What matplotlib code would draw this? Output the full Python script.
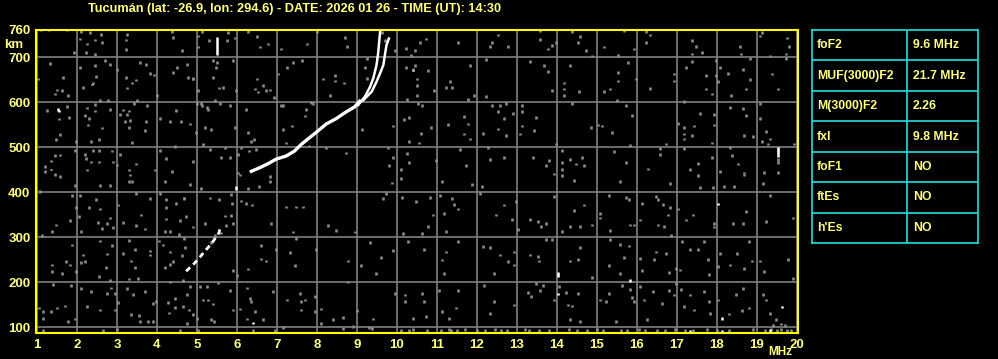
import matplotlib
matplotlib.use("Agg")
import matplotlib.pyplot as plt

# ionogram Tucuman 2026-01-26 14:30 UT

title = "Tucumán (lat: -26.9, lon: 294.6) - DATE: 2026 01 26 - TIME (UT): 14:30"

freq_ticks = list(range(1, 21))
height_ticks = [100, 200, 300, 400, 500, 600, 700, 760]

# lower (F1/E-ish) echo, MHz / km
low_mhz = [4.73, 4.94, 5.07, 5.23, 5.36, 5.55, 5.58]
low_km = [224, 242, 255, 272, 285, 309, 321]

# main F2 trace
f2_mhz = [6.36, 6.57, 6.78, 6.98, 7.23, 7.44, 7.61, 7.82, 8.03, 8.23, 8.48, 8.73, 8.94, 9.07]
f2_km = [446, 454, 463, 473, 480, 491, 506, 521, 536, 551, 563, 578, 589, 602]

# ordinary branch near the cusp
o_mhz = [9.03, 9.20, 9.33, 9.41, 9.49, 9.53, 9.58]
o_km = [593, 612, 634, 653, 682, 708, 756]

# extraordinary branch
x_mhz = [9.16, 9.37, 9.49, 9.58, 9.66, 9.74, 9.80]
x_km = [604, 623, 645, 664, 682, 727, 741]

# white spikes (freq, from km, to km)
spikes = [(5.49, 705, 745), (19.54, 478, 500), (14.03, 212, 222), (15.83, 199, 207),
          (18.13, 115, 122), (5.98, 405, 414), (6.39, 107, 112), (18.04, 371, 376),
          (2.37, 637, 641), (1.54, 577, 582), (1.35, 448, 452), (1.53, 581, 586),
          (19.63, 142, 146), (14.03, 172, 176), (19.33, 88, 96), (18.13, 88, 94),
          (17.34, 88, 93), (10.4, 668, 672)]

# gray noise dots (MHz, km)
noise = [
    (10.23, 716), (10.44, 711), (10.58, 730), (10.73, 737), (10.36, 701), (10.23, 674),
    (10.40, 670), (10.44, 678), (10.79, 667), (10.49, 648), (10.49, 633), (10.94, 622),
    (10.50, 611), (10.24, 602), (10.52, 593), (10.64, 589), (10.18, 558), (10.30, 563),
    (10.60, 527), (10.85, 541), (10.30, 509), (10.55, 506), (10.24, 483), (10.30, 463),
    (10.97, 467), (10.10, 447), (11.54, 730), (11.34, 642), (11.23, 630), (11.38, 630),
    (11.83, 678), (11.94, 611), (11.79, 602), (11.69, 565), (11.29, 547), (11.78, 548),
    (11.69, 526), (11.83, 515), (11.59, 491), (11.73, 456), (12.38, 730), (12.54, 746),
    (12.33, 720), (12.79, 721), (12.23, 691), (12.23, 610), (12.38, 589), (12.57, 589),
    (12.72, 593), (12.54, 576), (12.69, 561), (12.15, 527), (12.54, 537), (12.73, 522),
    (12.90, 572), (12.29, 496), (12.33, 469), (12.69, 474), (13.58, 756), (13.58, 736),
    (13.88, 722), (13.78, 715), (13.98, 730), (13.33, 687), (13.69, 678), (13.79, 665),
    (13.88, 622), (13.13, 590), (13.13, 576), (13.48, 563), (13.13, 544), (13.44, 533),
    (13.09, 526), (13.40, 474), (13.73, 456), (13.81, 467), (13.98, 504), (14.38, 753),
    (14.57, 743), (14.53, 730), (14.73, 711), (14.88, 699), (14.33, 678), (14.19, 639),
    (14.19, 626), (14.19, 611), (14.55, 620), (14.38, 594), (14.13, 489), (14.13, 463),
    (14.33, 469), (14.48, 459), (14.64, 474), (14.86, 541), (14.68, 456), (14.13, 447),
    (15.19, 719), (15.68, 756), (15.54, 700), (15.79, 685), (15.53, 663), (15.54, 644),
    (15.34, 626), (15.18, 620), (15.50, 600), (15.74, 589), (15.89, 567), (15.14, 544),
    (15.04, 546), (15.38, 530), (15.43, 487), (15.73, 463), (15.82, 500), (16.23, 754),
    (16.33, 746), (16.22, 730), (15.94, 715), (15.98, 648), (16.33, 627), (16.93, 659),
    (16.94, 644), (16.57, 493), (16.57, 481), (16.73, 504), (16.28, 448), (17.38, 733),
    (17.48, 721), (17.38, 704), (17.63, 707), (17.38, 687), (17.23, 674), (17.73, 656),
    (17.73, 626), (17.88, 615), (17.19, 598), (17.58, 572), (17.94, 570), (17.02, 550),
    (17.19, 541), (17.43, 544), (17.19, 526), (17.38, 522), (17.19, 515), (17.88, 506),
    (17.19, 493), (17.53, 461), (17.88, 474), (17.34, 447), (18.58, 721), (18.61, 704),
    (17.98, 689), (18.08, 674), (17.98, 656), (18.03, 642), (18.29, 661), (18.65, 670),
    (18.82, 693), (18.83, 647), (18.73, 626), (18.36, 611), (18.33, 585), (18.65, 583),
    (18.73, 567), (17.94, 546), (18.68, 522), (18.90, 521), (18.33, 496), (18.38, 478),
    (18.53, 459), (18.69, 439), (18.08, 442), (19.13, 752), (19.08, 744), (19.75, 739),
    (19.80, 721), (19.73, 704), (19.73, 693), (19.33, 699), (19.38, 659), (19.53, 626),
    (19.09, 593), (19.08, 561), (19.23, 531), (19.13, 509), (19.33, 515), (19.28, 504),
    (19.92, 504), (19.19, 441), (19.54, 491), (19.54, 463), (19.53, 441), (19.54, 470),
    (10.11, 427), (11.13, 420), (11.88, 413), (12.13, 409), (13.94, 437), (14.13, 433),
    (14.44, 422), (15.57, 420), (16.82, 416), (17.53, 433), (17.58, 407), (17.90, 407),
    (18.43, 409), (18.19, 409), (19.16, 416), (18.69, 435), (10.13, 385), (10.48, 376),
    (10.82, 385), (11.08, 390), (11.38, 383), (11.44, 370), (11.53, 359), (11.19, 350),
    (10.90, 346), (10.78, 320), (11.23, 309), (10.63, 305), (10.15, 305), (12.07, 394),
    (12.69, 368), (12.48, 346), (12.98, 376), (12.88, 336), (13.02, 314), (13.32, 336),
    (13.52, 331), (13.73, 327), (13.60, 320), (13.94, 387), (14.13, 309), (14.69, 368),
    (14.44, 356), (14.32, 320), (14.57, 320), (14.88, 324), (15.08, 350), (15.08, 339),
    (15.30, 390), (15.73, 385), (15.80, 381), (15.32, 311), (15.83, 324), (15.94, 324),
    (16.08, 335), (16.13, 372), (16.47, 387), (16.53, 381), (16.65, 370), (16.83, 363),
    (16.78, 346), (16.53, 324), (16.69, 320), (16.86, 301), (17.02, 359), (17.22, 335),
    (17.40, 346), (17.94, 327), (17.94, 319), (18.40, 327), (18.73, 353), (18.65, 327),
    (19.32, 390), (19.23, 331), (19.90, 339), (10.28, 287), (10.69, 270), (11.13, 246),
    (11.23, 264), (11.19, 216), (11.53, 287), (12.15, 276), (12.32, 274), (12.57, 257),
    (12.44, 216), (12.78, 242), (12.94, 264), (12.94, 235), (13.33, 257), (13.52, 253),
    (13.73, 292), (13.88, 292), (13.55, 244), (14.57, 274), (14.33, 244), (14.54, 247),
    (14.88, 207), (15.33, 292), (15.57, 281), (15.67, 252), (15.80, 277), (15.30, 233),
    (15.57, 216), (16.07, 250), (16.13, 222), (16.47, 264), (16.44, 247), (16.73, 261),
    (16.80, 218), (16.98, 227), (17.08, 224), (17.13, 287), (17.32, 270), (17.53, 270),
    (17.69, 287), (17.78, 247), (17.80, 213), (18.04, 231), (18.08, 261), (18.33, 235),
    (18.50, 261), (18.69, 227), (18.80, 287), (18.89, 244), (19.07, 244), (19.19, 220),
    (19.78, 247), (19.90, 205), (10.19, 168), (10.63, 172), (10.19, 153), (10.68, 153),
    (10.73, 121), (10.40, 116), (11.05, 178), (11.13, 131), (11.53, 178), (11.30, 116),
    (11.48, 139), (12.19, 190), (12.44, 153), (12.33, 127), (12.94, 146), (13.27, 174),
    (13.35, 165), (13.48, 194), (13.65, 190), (13.57, 178), (13.94, 157), (14.05, 187),
    (14.23, 174), (14.28, 146), (14.38, 144), (14.32, 113), (14.57, 109), (14.52, 172),
    (15.07, 157), (15.30, 172), (15.23, 153), (15.48, 109), (15.63, 190), (15.82, 180),
    (15.88, 163), (16.07, 187), (15.94, 153), (16.19, 157), (16.25, 113), (16.40, 176),
    (16.63, 150), (16.80, 178), (16.94, 168), (16.97, 194), (17.11, 180), (17.32, 168),
    (17.17, 142), (17.42, 135), (17.69, 176), (17.80, 153), (17.83, 127), (18.02, 157),
    (18.30, 126), (18.48, 170), (18.65, 183), (18.63, 133), (18.80, 139), (19.23, 157),
    (19.32, 127), (19.48, 113), (19.15, 170), (19.40, 100), (19.60, 104), (19.70, 100),
    (10.10, 90), (10.30, 90), (10.40, 92), (10.75, 90), (11.10, 90), (11.30, 92),
    (11.35, 89), (11.50, 90), (11.70, 92), (12.00, 90), (12.20, 90), (12.45, 92),
    (12.60, 90), (12.75, 89), (13.20, 92), (13.30, 90), (13.55, 90), (13.80, 90),
    (14.30, 92), (14.50, 90), (14.75, 90), (15.00, 92), (15.15, 90), (15.60, 90),
    (15.75, 90), (16.05, 92), (16.20, 90), (16.50, 90), (16.70, 90), (16.95, 92),
    (17.20, 90), (17.40, 90), (17.75, 92), (18.00, 90), (18.30, 90), (18.90, 92),
    (19.20, 90), (19.35, 92), (19.50, 90), (19.60, 92), (19.75, 90), (19.85, 90),
    (1.09, 757), (1.31, 757), (1.74, 757), (2.09, 754), (2.33, 752), (2.59, 747),
    (2.08, 737), (2.26, 726), (2.45, 735), (2.62, 730), (3.24, 747), (3.23, 735),
    (3.23, 713), (1.93, 707), (2.23, 707), (2.45, 702), (2.70, 689), (2.83, 681),
    (3.00, 670), (2.45, 678), (2.08, 674), (1.33, 683), (1.03, 648), (1.66, 652),
    (2.48, 653), (2.39, 639), (2.16, 630), (1.51, 624), (1.62, 622), (1.45, 615),
    (1.78, 611), (3.24, 628), (3.37, 639), (3.23, 652), (3.48, 646), (3.58, 685),
    (3.72, 681), (3.83, 661), (3.93, 657), (3.49, 601), (3.43, 594), (3.74, 589),
    (3.16, 579), (3.24, 570), (2.45, 591), (2.58, 600), (2.78, 600), (2.83, 581),
    (2.24, 584), (1.74, 587), (1.24, 578), (4.37, 754), (4.41, 741), (4.62, 711),
    (4.74, 681), (4.49, 674), (4.41, 663), (4.48, 579), (4.78, 652), (4.91, 648),
    (3.99, 611), (4.99, 594), (5.12, 754), (5.31, 733), (5.03, 719), (5.03, 744),
    (5.12, 589), (5.26, 585), (5.41, 689), (5.48, 674), (5.49, 685), (5.78, 752),
    (5.74, 733), (5.91, 689), (5.95, 739), (5.41, 652), (5.56, 628), (5.58, 594),
    (6.28, 754), (6.49, 742), (6.58, 719), (6.78, 726), (6.49, 648), (6.45, 626),
    (6.64, 633), (6.83, 624), (7.03, 659), (7.10, 715), (7.24, 674), (7.41, 685),
    (7.62, 689), (7.74, 726), (7.99, 754), (7.16, 589), (7.89, 593), (8.14, 648),
    (8.33, 611), (8.74, 720), (8.69, 741), (8.45, 656), (8.45, 644), (8.68, 639),
    (9.26, 693), (9.20, 674), (9.24, 650), (9.62, 752), (9.70, 733), (9.95, 712),
    (1.54, 559), (1.80, 562), (2.19, 567), (2.30, 561), (2.44, 577), (2.28, 546),
    (2.63, 539), (3.07, 570), (3.30, 577), (3.19, 553), (3.33, 556), (3.30, 541),
    (3.69, 533), (3.73, 553), (4.07, 561), (4.32, 553), (4.48, 577), (4.61, 553),
    (1.58, 525), (1.48, 513), (1.98, 509), (2.36, 510), (2.55, 513), (3.38, 507),
    (1.44, 478), (1.58, 479), (1.35, 466), (1.19, 453), (1.19, 442), (1.44, 436),
    (1.58, 431), (1.94, 490), (2.19, 481), (2.40, 490), (2.55, 490), (2.23, 472),
    (2.35, 464), (2.55, 464), (2.25, 446), (2.88, 488), (2.90, 464), (3.00, 457),
    (3.08, 481), (3.48, 459), (3.30, 446), (3.33, 435), (3.30, 420), (3.38, 420),
    (4.08, 490), (4.23, 472), (4.44, 498), (3.94, 446), (4.38, 442), (4.19, 421),
    (1.94, 411), (2.58, 411), (2.83, 411), (1.08, 398), (1.88, 390), (2.08, 389),
    (2.48, 381), (1.98, 362), (2.30, 362), (2.58, 359), (2.05, 342), (1.83, 333),
    (1.48, 324), (1.38, 310), (2.11, 310), (2.53, 330), (2.63, 316), (2.75, 327),
    (2.82, 339), (2.90, 318), (3.03, 368), (3.14, 330), (3.47, 322), (3.61, 346),
    (3.69, 315), (3.48, 394), (3.83, 383), (4.08, 394), (4.23, 381), (4.23, 362),
    (4.23, 337), (4.48, 372), (4.67, 383), (4.73, 342), (4.58, 333), (4.19, 310),
    (4.32, 310), (4.55, 303), (1.13, 301), (1.88, 279), (1.72, 242), (1.38, 235),
    (1.38, 221), (1.63, 216), (1.83, 235), (1.98, 221), (2.15, 257), (2.11, 241),
    (2.19, 242), (2.57, 288), (2.75, 259), (2.88, 278), (2.72, 229), (2.55, 209),
    (2.82, 201), (3.14, 261), (3.30, 290), (3.44, 270), (3.34, 244), (3.44, 229),
    (3.83, 266), (3.83, 257), (4.05, 288), (4.15, 279), (4.32, 264), (4.40, 242),
    (4.32, 236), (4.67, 293), (4.63, 256), (4.19, 229), (3.53, 205), (3.30, 204),
    (4.90, 649), (5.03, 622), (5.65, 630), (5.98, 622), (6.52, 619), (6.73, 622),
    (6.93, 607), (5.44, 601), (5.11, 593), (5.28, 581), (5.82, 589), (6.23, 581),
    (7.10, 589), (7.73, 581), (7.69, 566), (7.86, 596), (4.82, 548), (4.98, 529),
    (5.19, 540), (5.36, 536), (5.94, 540), (6.27, 529), (6.35, 510), (6.43, 514),
    (6.30, 488), (6.47, 491), (5.69, 495), (6.02, 480), (6.11, 495), (5.82, 473),
    (5.61, 473), (5.33, 491), (5.15, 503), (4.90, 465), (7.15, 536), (7.38, 544),
    (7.23, 506), (7.80, 499), (9.13, 536), (9.90, 544), (9.78, 495), (9.90, 473),
    (9.80, 456), (9.88, 417), (8.23, 495), (8.73, 484), (6.02, 439), (6.83, 431),
    (6.83, 420), (6.27, 405), (6.55, 409), (6.08, 435), (5.11, 405), (4.82, 413),
    (4.67, 384), (5.33, 384), (5.55, 381), (5.86, 392), (5.88, 372), (6.09, 377),
    (6.23, 372), (6.38, 368), (5.69, 344), (5.86, 345), (5.73, 323), (5.44, 300),
    (5.61, 306), (5.90, 327), (5.19, 327), (4.90, 319), (5.36, 285), (4.69, 274),
    (6.86, 327), (7.23, 364), (7.48, 364), (7.64, 364), (7.40, 308), (7.48, 293),
    (6.61, 278), (6.61, 248), (6.98, 270), (7.32, 263), (7.44, 233), (7.98, 270),
    (8.28, 323), (8.48, 312), (8.78, 244), (9.11, 233), (9.33, 285), (8.94, 308),
    (9.65, 383), (9.73, 394), (9.90, 267), (9.61, 252), (9.48, 216), (5.90, 222),
    (6.00, 211), (6.28, 226), (6.73, 244), (1.39, 191), (1.84, 190), (2.09, 182),
    (2.34, 176), (2.74, 172), (2.86, 184), (2.94, 172), (3.03, 152), (3.24, 182),
    (3.39, 169), (3.70, 176), (3.91, 150), (3.98, 154), (4.33, 197), (4.66, 200),
    (4.83, 187), (4.74, 169), (4.45, 160), (4.28, 152), (4.31, 128), (4.45, 140),
    (4.64, 142), (4.81, 135), (4.89, 125), (5.01, 116), (4.74, 105), (4.58, 90),
    (5.08, 187), (5.24, 187), (5.53, 195), (5.83, 178), (5.16, 157), (5.28, 157),
    (5.39, 148), (5.34, 113), (5.43, 110), (5.89, 135), (6.08, 137), (6.24, 184),
    (6.33, 161), (6.34, 154), (6.45, 131), (6.24, 115), (6.64, 113), (6.89, 176),
    (7.24, 157), (7.58, 172), (7.60, 154), (7.70, 157), (7.59, 135), (7.95, 165),
    (7.95, 131), (8.09, 137), (8.09, 105), (8.39, 113), (8.64, 118), (8.66, 93),
    (8.78, 197), (9.01, 133), (9.39, 115), (9.37, 94), (9.95, 172), (1.06, 139),
    (1.14, 131), (1.34, 131), (1.49, 139), (1.70, 144), (1.14, 116), (1.78, 109),
    (1.95, 115), (2.26, 143), (2.58, 135), (2.94, 135), (3.34, 125), (3.56, 122),
    (3.58, 109), (3.78, 110), (3.89, 110), (1.16, 90), (2.66, 90), (2.99, 92),
    (5.03, 90), (6.41, 90), (6.95, 90), (7.14, 96), (8.89, 98), (9.31, 96),
]

table_names = ["foF2", "MUF(3000)F2", "M(3000)F2", "fxI", "foF1", "ftEs", "h'Es"]
table_values = ["9.6 MHz", "21.7 MHz", "2.26", "9.8 MHz", "NO", "NO", "NO"]

plt.rcParams["font.family"] = ["Liberation Sans", "DejaVu Sans"]
plt.rcParams["font.weight"] = "bold"

txt = "#ffff80"
W, H = 998, 359
fig = plt.figure(figsize=(W / 100, H / 100), dpi=100, facecolor="black")

ax = fig.add_axes([36 / W, 1 - 333 / H, 762 / W, 303 / H], facecolor="black")
ax.set_xlim(0.975, 20.03)
ax.set_ylim(86.7, 760)

for f in freq_ticks:
    ax.axvline(f, color="#808080", lw=1.2, zorder=1)
for h in height_ticks:
    ax.axhline(h, color="#808080", lw=1.2, zorder=1)

nf = [p[0] for p in noise]
nh = [p[1] for p in noise]
ax.vlines(nf, nh, [h + 6 for h in nh], colors="#8c8c8c", lw=1.9, zorder=2)

ax.plot(low_mhz, low_km, color="white", lw=2, ls=(0, (2, 1.5)), zorder=3)
ax.plot(f2_mhz, f2_km, color="white", lw=2.4, zorder=3)
ax.plot(o_mhz, o_km, color="white", lw=1.8, zorder=3)
ax.plot(x_mhz, x_km, color="white", lw=1.8, zorder=3)
ax.vlines([s[0] for s in spikes], [s[1] for s in spikes], [s[2] for s in spikes],
          colors="white", lw=1.8, zorder=3)

for side in ax.spines.values():
    side.set_color("#ffff00")
    side.set_linewidth(1.5)

ax.set_xticks(freq_ticks)
ax.set_yticks(height_ticks)
ax.tick_params(length=0, colors=txt, labelsize=9.5, pad=4)
for lab in ax.get_xticklabels() + ax.get_yticklabels():
    lab.set_fontweight("bold")

fig.text(295 / W, 1 - 9 / H, title, color=txt, fontsize=9.2, fontweight="bold",
         ha="center", va="center")
fig.text(14 / W, 1 - 45 / H, "km", color=txt, fontsize=9.5, fontweight="bold",
         ha="center", va="center")
fig.text(780 / W, 1 - 352 / H, "MHz", color=txt, fontsize=8.5, fontweight="bold",
         ha="center", va="center")

# parameter table on the right
tab = fig.add_axes([812 / W, 1 - 243 / H, 166 / W, 213 / H], facecolor="black")
tab.set_xlim(0, 166)
tab.set_ylim(len(table_names), 0)
tab.set_xticks([])
tab.set_yticks([])
for side in tab.spines.values():
    side.set_color("#20e0e0")
    side.set_linewidth(1.2)
for i in range(1, len(table_names)):
    tab.axhline(i, color="#20e0e0", lw=1.2)
tab.axvline(95, color="#20e0e0", lw=1.2)
for i, (n, v) in enumerate(zip(table_names, table_values)):
    tab.text(5, i + 0.5, n, color=txt, fontsize=8.8, fontweight="bold", va="center")
    tab.text(101, i + 0.5, v, color=txt, fontsize=8.8, fontweight="bold", va="center")

fig.savefig("out.png", dpi=100, facecolor="black")
